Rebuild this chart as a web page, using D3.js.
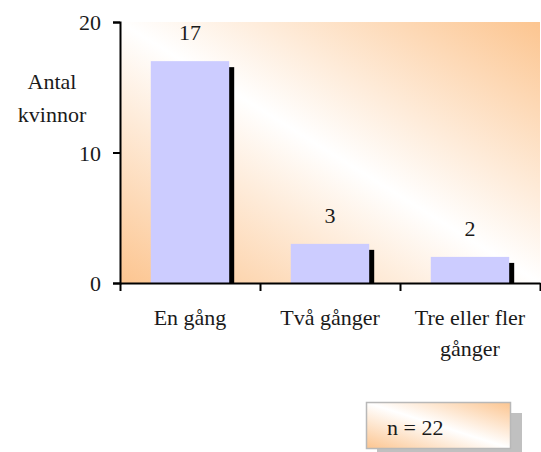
<!DOCTYPE html>
<html><head><meta charset="utf-8">
<script src="https://cdn.jsdelivr.net/npm/d3@7/dist/d3.min.js"></script>
</head><body>
<script>
const categories = [["En gång"], ["Två gånger"], ["Tre eller fler", "gånger"]];
const values = [17, 3, 2];
const yTicks = [0, 10, 20];
const yTitle = ["Antal", "kvinnor"];
const nLabel = "n = 22";

const W = 541, H = 452;
d3.select("body").style("margin", "0");
const svg = d3.select("body").append("svg").attr("width", W).attr("height", H).style("display", "block");
const defs = svg.append("defs");
function styleText(sel) {
  return sel.style("font-family", '"Times New Roman"').style("font-size", "22px").style("fill", "#1a1a1a");
}

function diagGrad(id) {
  const g = defs.append("linearGradient").attr("id", id)
    .attr("x1", "0").attr("y1", "1").attr("x2", "1").attr("y2", "0");
  g.append("stop").attr("offset", "0").attr("stop-color", "#fcc590");
  g.append("stop").attr("offset", "0.5").attr("stop-color", "#ffffff");
  g.append("stop").attr("offset", "1").attr("stop-color", "#fcc590");
}
diagGrad("bg");
diagGrad("bg2");

const x0 = 120, x1 = 540, yTop = 22, yBot = 283;
const x = d3.scaleBand().domain(d3.range(values.length)).range([x0, x1]).paddingInner(0.44).paddingOuter(0.22);
const y = d3.scaleLinear().domain([0, 20]).range([yBot, yTop]);

svg.append("rect").attr("x", x0).attr("y", yTop).attr("width", x1 - x0).attr("height", yBot - yTop).attr("fill", "url(#bg)");

svg.selectAll("rect.sh").data(values).enter().append("rect").attr("class", "sh")
  .attr("x", (d, i) => x(i) + 5).attr("y", d => y(d) + 6)
  .attr("width", x.bandwidth()).attr("height", d => yBot - y(d) - 6).attr("fill", "#000");
svg.selectAll("rect.bar").data(values).enter().append("rect").attr("class", "bar")
  .attr("x", (d, i) => x(i)).attr("y", d => y(d))
  .attr("width", x.bandwidth()).attr("height", d => yBot - y(d)).attr("fill", "#ccccff");

styleText(svg.selectAll("text.val").data(values).enter().append("text").attr("class", "val")
  .attr("x", (d, i) => x(i) + x.bandwidth() / 2).attr("y", d => y(d) - 21)
  .attr("text-anchor", "middle").text(d => d));

const yAxis = svg.append("g").attr("transform", `translate(${x0},0)`)
  .call(d3.axisLeft(y).tickValues(yTicks).tickSize(7).tickPadding(12).tickFormat(d3.format("d")));
yAxis.attr("font-family", null).attr("font-size", null);
yAxis.select(".domain").attr("stroke", "#000").attr("stroke-width", 2);
yAxis.selectAll(".tick line").attr("stroke", "#000").attr("stroke-width", 2);
styleText(yAxis.selectAll(".tick text")).attr("dy", "0.36em");

const xEdge = d3.scaleLinear().domain([0, 3]).range([x0, x1]);
const xAxis = svg.append("g").attr("transform", `translate(0,${yBot})`)
  .call(d3.axisBottom(xEdge).tickValues([0, 1, 2, 3]).tickSize(8).tickSizeOuter(0).tickFormat(""));
xAxis.attr("font-family", null);
xAxis.select(".domain").attr("stroke", "#000").attr("stroke-width", 2);
xAxis.selectAll(".tick line").attr("stroke", "#000").attr("stroke-width", 2);

categories.forEach((lines, i) => {
  const t = styleText(svg.append("text").attr("text-anchor", "middle"));
  lines.forEach((l, j) => t.append("tspan").attr("x", x(i) + x.bandwidth() / 2).attr("y", 325 + j * 31).text(l));
});

const yt = styleText(svg.append("text").attr("text-anchor", "middle"));
yTitle.forEach((l, j) => yt.append("tspan").attr("x", 52).attr("y", 89 + j * 33).text(l));

svg.append("rect").attr("x", 377).attr("y", 413).attr("width", 145).attr("height", 47).attr("fill", "#c0c0c0");
svg.append("rect").attr("x", 366.5).attr("y", 402.5).attr("width", 144).attr("height", 46)
  .attr("fill", "url(#bg2)").attr("stroke", "#b8b8b8").attr("stroke-width", 1.5);
styleText(svg.append("text").attr("x", 387).attr("y", 435).text(nLabel));
</script>
</body></html>
